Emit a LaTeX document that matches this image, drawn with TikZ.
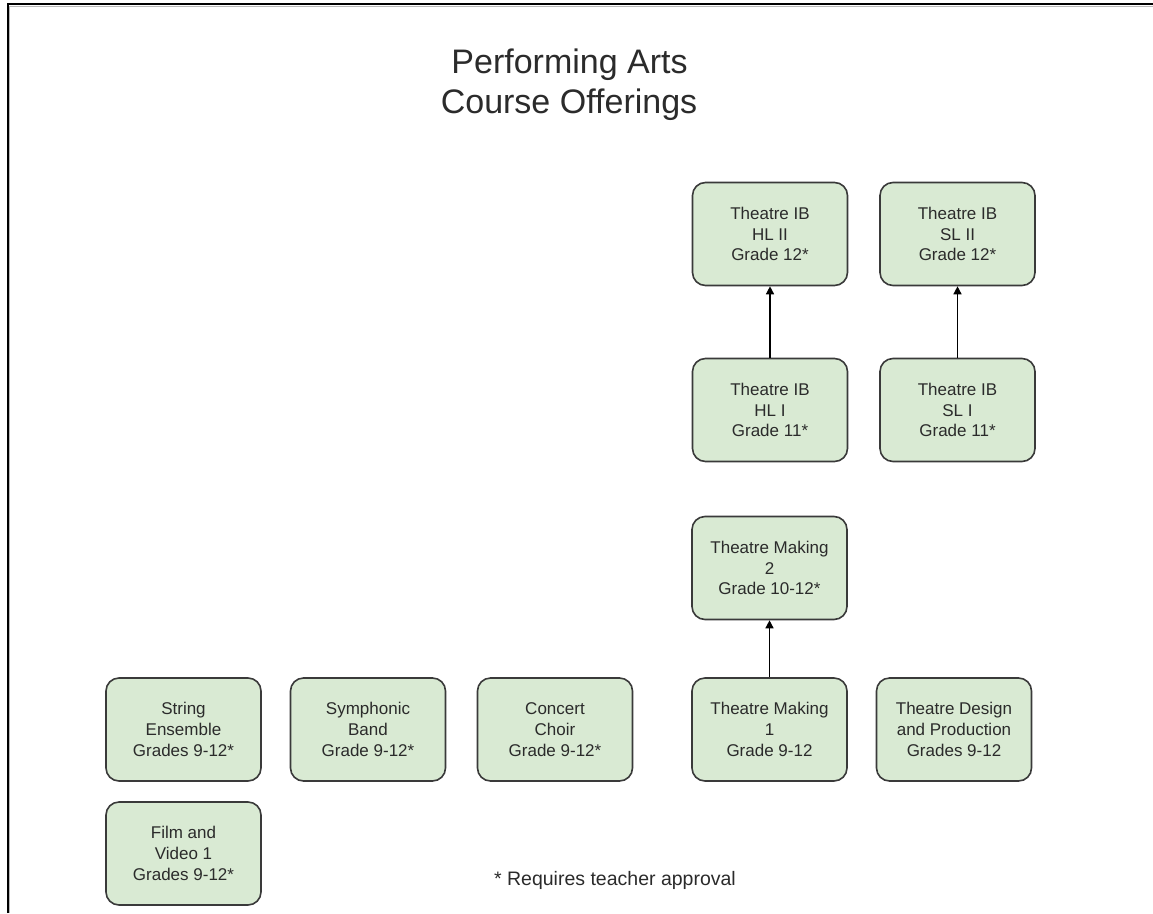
\documentclass[tikz,border=0pt]{standalone}
\usepackage{fontspec}
\setmainfont{Liberation Sans}
\usetikzlibrary{arrows.meta}
\definecolor{boxfill}{HTML}{D9EAD3}
\definecolor{boxline}{HTML}{3A3A3A}
\definecolor{txt}{HTML}{2B2B2B}
\begin{document}
\begin{tikzpicture}[x=1pt,y=-1pt,
  course/.style={draw=boxline, line width=1.6pt, fill=boxfill, rounded corners=13pt,
    minimum width=155pt, minimum height=103pt, inner sep=0pt, align=center,
    text=txt, font=\fontsize{17}{20.7}\selectfont},
  link/.style={-{Triangle[length=8pt,width=8pt]}, line width=1.4pt, black},
  titletext/.style={anchor=base, text=txt, font=\fontsize{34}{40}\selectfont, inner sep=0pt},
  notetext/.style={anchor=base, text=txt, font=\fontsize{19.5}{23}\selectfont, inner sep=0pt}]
\useasboundingbox (0,0) rectangle (1153,913);
\fill[white] (0,0) rectangle (1153,913);
% frame
\draw[gray!55, line width=1pt] (9.6,913) -- (9.6,6) -- (1153,6);
\draw[black, line width=2pt] (7.7,913) -- (7.7,4) -- (1153,4);
% title
\node[titletext] (title1) at (569.5,73) {Performing Arts};
\node[titletext] (title2) at (569,113) {Course Offerings};
% courses
\node[course] (hl2) at (770,234) {Theatre IB\\HL II\\Grade 12*};
\node[course] (sl2) at (957.5,234) {Theatre IB\\SL II\\Grade 12*};
\node[course] (hl1) at (770,410) {Theatre IB\\HL I\\Grade 11*};
\node[course] (sl1) at (957.5,410) {Theatre IB\\SL I\\Grade 11*};
\node[course] (tm2) at (769.5,568) {Theatre Making\\2\\Grade 10-12*};
\node[course] (string) at (183.5,729.5) {String\\Ensemble\\Grades 9-12*};
\node[course] (band) at (368,729.5) {Symphonic\\Band\\Grade 9-12*};
\node[course] (choir) at (555,729.5) {Concert\\Choir\\Grade 9-12*};
\node[course] (tm1) at (769.5,729.5) {Theatre Making\\1\\Grade 9-12};
\node[course] (design) at (954,729.5) {Theatre Design\\and Production\\Grades 9-12};
\node[course] (film) at (183.5,853.5) {Film and\\Video 1\\Grades 9-12*};
% note
\node[notetext] (note) at (615,885) {* Requires teacher approval};
% connectors
\draw[link] (hl1) -- (hl2);
\draw[link] (sl1) -- (sl2);
\draw[link] (tm1) -- (tm2);
\end{tikzpicture}
\end{document}
